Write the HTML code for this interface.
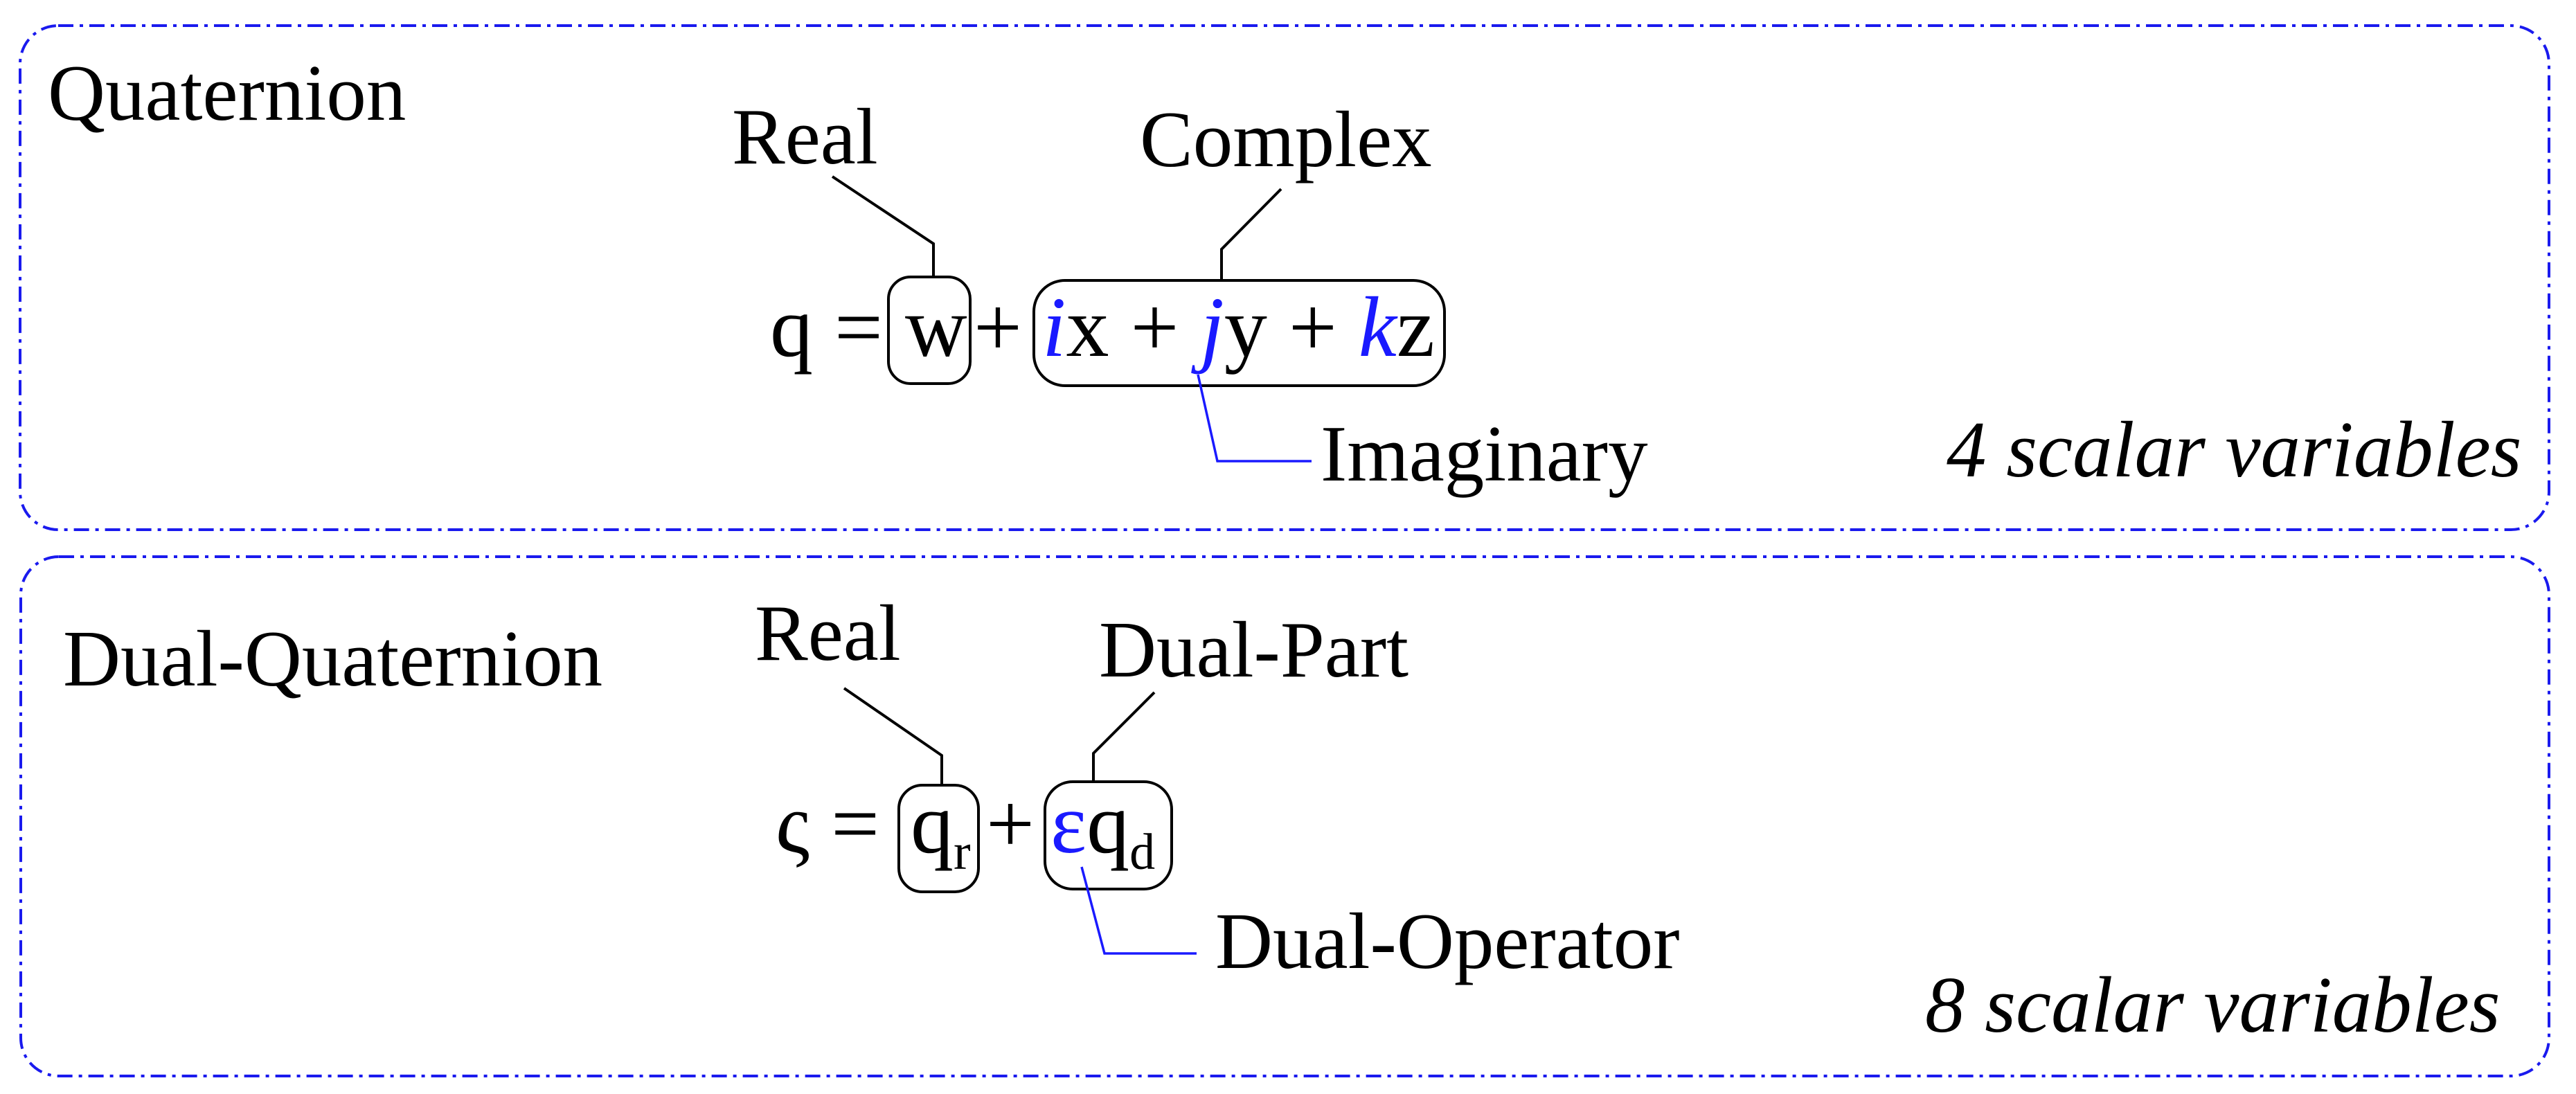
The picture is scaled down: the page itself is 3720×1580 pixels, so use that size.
<!DOCTYPE html>
<html><head><meta charset="utf-8"><style>
html,body{margin:0;padding:0;background:#fff;}
svg{display:block;}
text{font-family:"Liberation Serif",serif;font-size:115px;fill:#000;}
.eq{font-size:124px;}
.b{fill:#1a1aff;}
.it{font-style:italic;}
</style></head><body>
<svg width="3720" height="1580" viewBox="0 0 3720 1580" xmlns="http://www.w3.org/2000/svg">
<g fill="none" stroke="#1a1aee" stroke-width="4" stroke-dasharray="22 9 5 9">
<rect x="29" y="37" width="3652" height="728" rx="55"/>
<rect x="30" y="804" width="3651" height="750" rx="55"/>
</g>
<!-- Top panel -->
<text x="69" y="173" font-size="120">Quaternion</text>
<text x="1057" y="236">Real</text>
<text x="1646" y="240">Complex</text>
<g fill="none" stroke="#000" stroke-width="4">
<polyline points="1202,255 1348,352 1348,400"/>
<polyline points="1850,273 1764,360 1764,405"/>
<rect x="1283" y="400" width="118" height="154" rx="32"/>
<rect x="1493" y="405" width="593" height="152" rx="45"/>
</g>
<text class="eq" x="1112" y="514">q =</text>
<text class="eq" x="1307" y="514">w</text>
<text class="eq" x="1406" y="514">+</text>
<text class="eq" x="1505" y="514"><tspan class="b it">i</tspan>x + <tspan class="b it">j</tspan>y + <tspan class="b it">k</tspan>z</text>
<polyline points="1730,541 1758,666 1894,666" fill="none" stroke="#1a1aff" stroke-width="3.5"/>
<text x="1907" y="694">Imaginary</text>
<text x="2811" y="688" class="it">4 scalar variables</text>
<!-- Bottom panel -->
<text x="91" y="990">Dual-Quaternion</text>
<text x="1090" y="953">Real</text>
<text x="1587" y="977">Dual-Part</text>
<g fill="none" stroke="#000" stroke-width="4">
<polyline points="1219,994 1360,1091 1360,1134"/>
<polyline points="1667,1000 1579,1088 1579,1129"/>
<rect x="1298" y="1134" width="115" height="154" rx="34"/>
<rect x="1509" y="1129" width="183" height="155" rx="40"/>
</g>
<text class="eq" x="1120" y="1231">ς =</text>
<text class="eq" x="1315" y="1231">q<tspan font-size="74" dy="24">r</tspan></text>
<text class="eq" x="1424" y="1231">+</text>
<text class="eq" x="1517" y="1231"><tspan class="b">ε</tspan>q<tspan font-size="74" dy="24">d</tspan></text>
<polyline points="1562,1252 1595,1377 1728,1377" fill="none" stroke="#1a1aff" stroke-width="3.5"/>
<text x="1755" y="1398">Dual-Operator</text>
<text x="2780" y="1490" class="it">8 scalar variables</text>
</svg>
</body></html>
